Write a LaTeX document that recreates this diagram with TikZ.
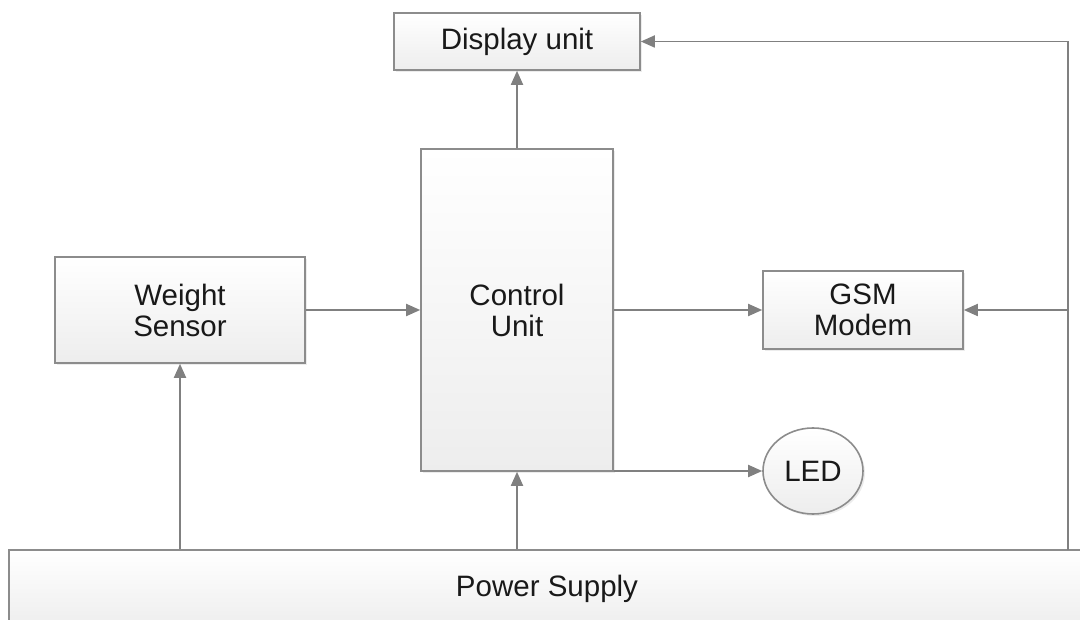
\documentclass[tikz,border=0pt]{standalone}
\usepackage{fontspec}
\setmainfont{Liberation Sans}
\usetikzlibrary{arrows.meta,shadows,shapes.geometric}
\definecolor{linegray}{RGB}{128,128,128}
\definecolor{bordergray}{RGB}{140,140,140}
\definecolor{txt}{RGB}{25,25,25}
\tikzset{
  box/.style={draw=bordergray, line width=1.6pt, top color=white, bottom color=black!7,
    text=txt, font=\fontsize{29.5}{31}\selectfont, align=center, inner sep=0pt,
    drop shadow={shadow xshift=2pt, shadow yshift=-2pt, opacity=0.15}},
  arr/.style={draw=linegray, line width=1.8pt, -{Triangle[length=14pt,width=12pt]}},
  ln/.style={draw=linegray, line width=1.8pt}
}
\begin{document}
\begin{tikzpicture}[x=1pt,y=-1pt]
\useasboundingbox (0,0) rectangle (1080,620);
\node (disp) [box, minimum width=246, minimum height=57] at (517,41.5) {Display unit};
\node (cu) [box, minimum width=192, minimum height=322] at (517,310) {Control\\Unit};
\node (ws) [box, minimum width=250, minimum height=106] at (180,310) {Weight\\Sensor};
\node (gsm) [box, minimum width=200, minimum height=78] at (863,310) {GSM\\Modem};
\node (led) [box, ellipse, minimum width=100, minimum height=86] at (813,471) {LED};
\node (ps) [box, minimum width=1076, minimum height=80] at (547,590) {\raisebox{9pt}{Power Supply}};
\coordinate (rb) at (1068,550);
\coordinate (rt) at (1068,41.5);
\coordinate (rm) at (1068,310);
\draw[arr] (cu.north) -- (disp.south);
\draw[arr] (rb) -- (rt) -- (disp.east);
\draw[arr] (rm) -- (gsm.east);
\draw[arr] (ws.east) -- (cu.west |- ws.east);
\draw[arr] (cu.east |- gsm.west) -- (gsm.west);
\draw[arr] (cu.east |- led.west) -- (led.west);
\draw[arr] (ps.north -| ws.south) -- (ws.south);
\draw[arr] (ps.north -| cu.south) -- (cu.south);
\end{tikzpicture}
\end{document}
